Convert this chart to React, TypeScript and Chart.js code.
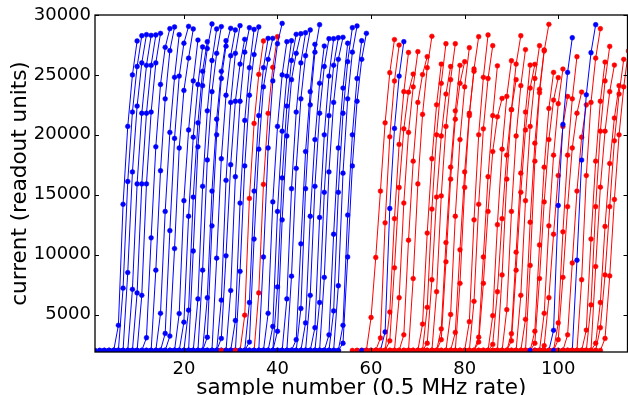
import { useEffect, useRef } from "react";
import { Chart, registerables } from "chart.js";

Chart.register(...registerables);

// ---- data ----
const BASELINE = 2000; // readout value before the ramp starts
const RECORD_LENGTH = 10; // samples per recorded trace
const xTicks = [20, 40, 60, 80, 100];
const yTicks = [5000, 10000, 15000, 20000, 25000, 30000];
const xTitle = "sample number (0.5 MHz rate)";
const yTitle = "current (readout units)";

// last sample index of each blue trace
const blueEnds = [
  10, 11, 12, 13, 14, 15, 17, 18, 19, 21, 22, 23, 24, 25, 26, 27, 28, 29, 30, 31,
  32, 33, 34, 35, 36, 38, 39, 41, 42, 43, 44, 45, 46, 47, 48, 49, 50, 51, 52, 53,
  54, 55, 56, 57, 58, 59, 67, 103, 108,
];
// rising samples of each blue trace (the last value is the final sample)
const blueRamps = [
  [4100, 14200, 20700, 25000, 27830],
  [7200, 16100, 21900, 25700, 28270],
  [8500, 16900, 22400, 26000, 28360],
  [7100, 15900, 21800, 25800, 28300],
  [6800, 15900, 21800, 25800, 28330],
  [6600, 15900, 21900, 26000, 28470],
  [3060, 11400, 19000, 24200, 27300, 28860],
  [8700, 17000, 23000, 27020, 29000],
  [5100, 13600, 20200, 24800, 28360],
  [3420, 12000, 19700, 24900, 27640, 29050],
  [3200, 10500, 18900, 23700, 26400, 28830],
  [5080, 14500, 20400, 24500, 27910],
  [4360, 13200, 19800, 24200, 27330],
  [5360, 14800, 21000, 25300, 27770],
  [10300, 19000, 24100, 27200, 29250],
  [6300, 15700, 22000, 26200, 28830],
  [8700, 17900, 23600, 26800, 29030],
  [6400, 15300, 21300, 25300, 27850],
  [3100, 12400, 20000, 24700, 27400, 28890],
  [9700, 18000, 23300, 26600, 28750],
  [6200, 16200, 22700, 26800, 29110],
  [3000, 9900, 17500, 22800, 25900, 27970],
  [7000, 16500, 22800, 26900, 28940],
  [4500, 14300, 21200, 25600, 28800],
  [8600, 17400, 23300, 26700, 29000],
  [6000, 15300, 21600, 25600, 28050],
  [2700, 11300, 18800, 24000, 26300, 28050],
  [9800, 18900, 24500, 27600, 29300],
  [5100, 14400, 20700, 25000, 27770],
  [4000, 13600, 20300, 24900, 27850],
  [7300, 16400, 22400, 26200, 28390],
  [3600, 12900, 19900, 24600, 26800, 28440],
  [6300, 15500, 21900, 26000, 28520],
  [8200, 17200, 23000, 26600, 28750],
  [2900, 10900, 18600, 23600, 27550],
  [5500, 15500, 22500, 26900, 29190],
  [4300, 13200, 19600, 24300, 27410],
  [6600, 15700, 21800, 25700, 28020],
  [3900, 13100, 20000, 24900, 28020],
  [6000, 15200, 21600, 25800, 28100],
  [8100, 16900, 22700, 26300, 28140],
  [3300, 11700, 18900, 23900, 27640],
  [5300, 15200, 21800, 26100, 28940],
  [7400, 16800, 23000, 26900, 29080],
  [4100, 13300, 20000, 24700, 27850],
  [2600, 9800, 17400, 22800, 26300, 28470],
  [3540, 13850, 20530, 24900, 27770],
  [3680, 14100, 20870, 25210, 28100],
  [9530, 17890, 23340, 26850, 29190],
];

// last sample index of each red trace
const redEnds = [
  37, 40, 65, 66, 68, 69, 70, 72, 73, 75, 76, 77, 78, 79, 80, 81, 82, 83, 85, 86,
  87, 88, 90, 91, 92, 93, 94, 95, 96, 97, 98, 99, 100, 101, 102, 104, 105, 106, 109, 110,
  111, 112, 113, 114, 115,
];
const redRamps = [
  [4940, 14690, 20950, 25040, 27830],
  [6800, 15860, 21790, 25630, 28190],
  [4750, 9760, 15300, 21000, 25180, 27950],
  [3040, 12650, 19830, 24490, 27490],
  [5200, 13000, 19200, 23600, 26870],
  [2800, 8900, 15600, 20500, 23560, 25070],
  [6400, 14300, 20200, 24000, 26940],
  [3300, 11200, 17800, 22700, 25030, 26520],
  [8000, 15900, 21700, 25600, 28220],
  [4200, 11800, 18000, 22500, 25900],
  [5600, 13800, 20000, 24300, 27600],
  [2600, 7900, 14800, 19900, 23400, 25700],
  [6900, 14900, 20700, 24600, 27600],
  [3800, 11000, 17300, 22000, 25800],
  [2900, 9400, 16300, 21300, 24300, 26100],
  [5000, 13200, 19600, 24000, 27270],
  [3500, 10400, 16900, 21800, 25300],
  [7600, 15600, 21600, 25500, 28190],
  [4400, 12900, 20000, 24800, 28330],
  [6100, 14200, 20500, 24700, 27440],
  [3100, 9800, 16500, 21600, 25760],
  [2700, 7600, 13600, 18600, 21500, 23040],
  [4900, 12500, 18800, 23200, 26180],
  [2500, 6900, 13000, 18300, 22100, 24600],
  [8300, 16300, 22100, 25900, 28270],
  [5400, 13600, 19900, 24100, 27110],
  [3400, 10200, 16800, 21900, 25820],
  [2800, 8700, 15200, 20400, 23900, 25880],
  [6600, 14500, 20700, 24700, 27440],
  [4600, 12700, 19300, 23800, 27080],
  [9100, 17800, 23500, 27000, 29220],
  [3600, 10800, 17300, 22200, 25210],
  [2600, 8000, 14400, 19600, 22900, 24770],
  [5100, 12400, 18300, 22600, 25490],
  [2400, 6400, 11700, 16600, 20700, 23200],
  [4300, 11900, 18300, 23000, 26520],
  [2900, 8100, 14000, 18900, 21800, 23570],
  [3300, 9300, 15300, 19800, 22500],
  [7900, 16600, 22700, 26400, 28860],
  [3700, 11300, 17800, 22800, 26070],
  [5800, 14000, 20300, 24500, 27380],
  [9000, 15630, 20300, 23600, 25820],
  [2600, 6000, 12350, 17600, 21400, 24100],
  [3900, 8300, 14000, 19500, 23400, 26300],
  [3000, 8220, 14600, 20000, 24000, 27000],
];

const BLUE = "#0000ff";
const RED = "#ff0000";

function buildTrace(end: number, ramp: number[]) {
  const pts: { x: number; y: number }[] = [];
  const first = end - RECORD_LENGTH + 1;
  const rampStart = end - ramp.length + 1;
  for (let x = first; x <= end; x++) {
    pts.push({ x, y: x >= rampStart ? ramp[x - rampStart] : BASELINE });
  }
  return pts;
}

const FONT = "DejaVu Sans";

const framePlugin = {
  id: "frame",
  afterDatasetsDraw(chart: any) {
    const { ctx, chartArea: a, scales } = chart;
    ctx.save();
    ctx.strokeStyle = "#000";
    ctx.lineWidth = 1.3;
    ctx.strokeRect(a.left, a.top, a.right - a.left, a.bottom - a.top);
    const L = 4;
    ctx.lineWidth = 1;
    ctx.beginPath();
    for (const v of xTicks) {
      const px = Math.round(scales.x.getPixelForValue(v)) + 0.5;
      ctx.moveTo(px, a.top);
      ctx.lineTo(px, a.top + L);
      ctx.moveTo(px, a.bottom);
      ctx.lineTo(px, a.bottom - L);
    }
    for (const v of yTicks) {
      const py = Math.round(scales.y.getPixelForValue(v)) + 0.5;
      ctx.moveTo(a.left, py);
      ctx.lineTo(a.left + L, py);
      ctx.moveTo(a.right, py);
      ctx.lineTo(a.right - L, py);
    }
    ctx.stroke();
    ctx.fillStyle = "#000";
    ctx.font = `21.5px "${FONT}"`;
    ctx.textAlign = "center";
    ctx.textBaseline = "alphabetic";
    ctx.fillText(xTitle, (a.left + a.right) / 2, 394);
    ctx.translate(26, (a.top + a.bottom) / 2);
    ctx.rotate(-Math.PI / 2);
    ctx.fillText(yTitle, 0, 0);
    ctx.restore();
  },
};

export default function App() {
  const ref = useRef<HTMLCanvasElement | null>(null);

  useEffect(() => {
    if (!ref.current) return;
    const traces: { end: number; color: string; data: { x: number; y: number }[] }[] = [];
    blueEnds.forEach((e, i) => traces.push({ end: e, color: BLUE, data: buildTrace(e, blueRamps[i]) }));
    redEnds.forEach((e, i) => traces.push({ end: e, color: RED, data: buildTrace(e, redRamps[i]) }));
    traces.sort((p, q) => p.end - q.end);
    const n = traces.length;
    const datasets = traces.map((t, i) => ({
      data: t.data,
      borderColor: t.color,
      backgroundColor: t.color,
      pointBackgroundColor: t.color,
      pointBorderColor: t.color,
      borderWidth: 1,
      pointRadius: 2.4,
      pointBorderWidth: 0.5,
      tension: 0,
      fill: false,
      order: n - i,
    }));

    const chart = new Chart(ref.current, {
      type: "line",
      data: { datasets },
      options: {
        animation: false,
        responsive: false,
        devicePixelRatio: 1,
        layout: { padding: { top: 15, right: 2.5, left: 0, bottom: 0 } },
        plugins: { legend: { display: false }, tooltip: { enabled: false } },
        scales: {
          x: {
            type: "linear",
            min: 1,
            max: 114.8,
            grid: { display: false, drawTicks: false },
            border: { display: false },
            ticks: {
              font: { family: FONT, size: 18 },
              color: "#000",
              padding: 7,
              maxRotation: 0,
              autoSkip: false,
              callback: (v: any) => String(v),
            },
            afterBuildTicks: (s: any) => {
              s.ticks = xTicks.map((v) => ({ value: v }));
            },
            afterFit: (s: any) => {
              s.height = 43;
            },
          },
          y: {
            type: "linear",
            min: 1870,
            max: 30000,
            grid: { display: false, drawTicks: false },
            border: { display: false },
            ticks: {
              font: { family: FONT, size: 18 },
              color: "#000",
              padding: 4,
              autoSkip: false,
              callback: (v: any) => String(v),
            },
            afterBuildTicks: (s: any) => {
              s.ticks = yTicks.map((v) => ({ value: v }));
            },
            afterFit: (s: any) => {
              s.width = 95;
            },
          },
        },
      },
      plugins: [framePlugin],
    });
    return () => chart.destroy();
  }, []);

  return (
    <div
      style={{
        position: "fixed",
        left: 0,
        top: 0,
        width: 628,
        height: 395,
        overflow: "hidden",
        background: "#fff",
      }}
    >
      <canvas ref={ref} width={632} height={395} style={{ width: 632, height: 395, display: "block" }} />
    </div>
  );
}
